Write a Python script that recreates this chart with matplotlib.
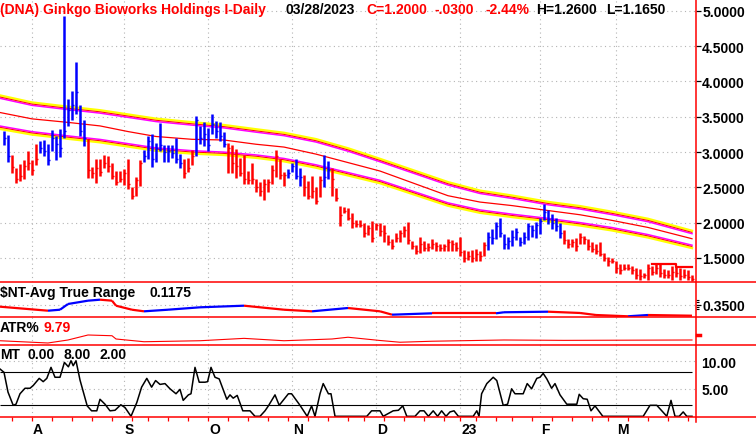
import numpy as np
import pandas as pd
import matplotlib
matplotlib.use('Agg')
import matplotlib.pyplot as plt
from matplotlib.lines import Line2D
from matplotlib.collections import LineCollection
from matplotlib import transforms

plt.rcParams['font.family'] = ['Liberation Sans', 'DejaVu Sans']

W, H = 756, 439
RED, BLUE = '#ff0000', '#0000ff'

# trading days 21 Jul 2022 .. 28 Mar 2023, index 0 = 1 Aug 2022
holidays = ['2022-09-05', '2022-11-24', '2022-12-26', '2023-01-02', '2023-01-16', '2023-02-20']
dates = pd.bdate_range('2022-07-21', '2023-03-28')
dates = dates[~dates.isin(pd.to_datetime(holidays))]
idx = np.arange(len(dates)) - 7

high = np.array([
    3.30, 3.24, 2.96, 2.77, 2.83, 2.89, 3.01, 2.89, 3.11, 3.16, 3.17, 3.11, 3.31, 3.23, 3.33, 4.93,
    3.75, 3.87, 4.28, 3.67, 3.45, 3.19, 2.79, 2.90, 2.90, 2.96, 2.95, 2.84, 2.73, 2.73, 2.76, 2.90,
    2.51, 2.65, 2.89, 3.03, 3.22, 3.26, 3.13, 3.41, 3.10, 3.10, 3.10, 3.20, 2.97, 2.90, 2.91, 3.03,
    3.51, 3.37, 3.43, 3.34, 3.54, 3.44, 3.42, 3.28, 3.13, 3.10, 3.04, 2.91, 2.96, 2.73, 2.85, 2.62,
    2.57, 2.62, 2.61, 2.82, 3.03, 2.90, 2.72, 2.76, 2.85, 2.90, 2.77, 2.68, 2.59, 2.66, 2.50, 2.66,
    2.96, 2.87, 2.77, 2.49, 2.23, 2.22, 2.21, 2.14, 2.04, 2.03, 2.00, 1.96, 2.02, 2.00, 1.99, 1.97,
    1.82, 1.77, 1.85, 1.89, 1.95, 2.01, 1.74, 1.68, 1.80, 1.74, 1.71, 1.77, 1.73, 1.69, 1.70, 1.77,
    1.75, 1.73, 1.79, 1.61, 1.59, 1.61, 1.62, 1.59, 1.73, 1.87, 1.91, 2.01, 2.06, 1.83, 1.79, 1.89,
    1.92, 1.80, 1.86, 2.00, 1.97, 2.01, 2.06, 2.26, 2.18, 2.12, 2.07, 2.00, 1.89, 1.76, 1.76, 1.78,
    1.85, 1.81, 1.77, 1.73, 1.69, 1.73, 1.57, 1.51, 1.50, 1.46, 1.41, 1.41, 1.41, 1.39, 1.36, 1.34,
    1.29, 1.41, 1.39, 1.42, 1.41, 1.34, 1.32, 1.39, 1.39, 1.36, 1.34, 1.32, 1.26])
low = np.array([
    3.10, 2.86, 2.70, 2.56, 2.59, 2.62, 2.74, 2.68, 2.82, 2.98, 2.95, 2.82, 3.01, 2.89, 2.93, 3.20,
    3.37, 3.45, 3.54, 3.23, 3.09, 2.63, 2.63, 2.56, 2.66, 2.78, 2.72, 2.62, 2.53, 2.57, 2.53, 2.48,
    2.33, 2.38, 2.52, 2.86, 2.90, 2.79, 2.86, 3.01, 2.86, 2.86, 2.91, 2.85, 2.77, 2.63, 2.72, 2.81,
    2.94, 3.11, 3.08, 3.01, 3.25, 3.20, 3.16, 3.07, 2.70, 2.70, 2.63, 2.66, 2.54, 2.54, 2.55, 2.43,
    2.38, 2.32, 2.43, 2.54, 2.65, 2.61, 2.52, 2.63, 2.72, 2.61, 2.52, 2.38, 2.33, 2.35, 2.26, 2.36,
    2.51, 2.61, 2.38, 2.30, 1.95, 2.14, 2.03, 1.92, 1.94, 1.94, 1.80, 1.82, 1.73, 1.90, 1.81, 1.72,
    1.68, 1.62, 1.73, 1.73, 1.80, 1.69, 1.62, 1.55, 1.57, 1.59, 1.59, 1.62, 1.60, 1.60, 1.59, 1.59,
    1.59, 1.60, 1.52, 1.44, 1.47, 1.44, 1.46, 1.46, 1.52, 1.61, 1.70, 1.77, 1.80, 1.62, 1.62, 1.66,
    1.75, 1.66, 1.70, 1.75, 1.80, 1.78, 1.84, 2.03, 1.98, 1.91, 1.88, 1.78, 1.70, 1.64, 1.65, 1.60,
    1.70, 1.70, 1.61, 1.58, 1.55, 1.53, 1.45, 1.39, 1.43, 1.28, 1.27, 1.32, 1.32, 1.27, 1.20, 1.19,
    1.22, 1.18, 1.25, 1.27, 1.23, 1.22, 1.21, 1.18, 1.23, 1.18, 1.21, 1.18, 1.165])
close = np.array([
    3.20, 2.95, 2.79, 2.62, 2.66, 2.80, 2.85, 2.75, 2.90, 3.05, 3.02, 2.88, 3.20, 3.12, 3.05, 3.30,
    3.60, 3.66, 3.85, 3.30, 3.20, 2.75, 2.70, 2.78, 2.72, 2.85, 2.80, 2.66, 2.58, 2.62, 2.70, 2.55,
    2.38, 2.60, 2.85, 2.95, 3.15, 2.90, 3.05, 3.10, 3.00, 3.02, 2.98, 2.90, 2.85, 2.70, 2.78, 2.95,
    3.45, 3.20, 3.25, 3.10, 3.40, 3.30, 3.22, 3.12, 3.05, 2.85, 2.80, 2.70, 2.62, 2.60, 2.62, 2.50,
    2.45, 2.55, 2.58, 2.75, 2.95, 2.68, 2.68, 2.70, 2.80, 2.66, 2.65, 2.50, 2.38, 2.45, 2.30, 2.60,
    2.65, 2.75, 2.62, 2.35, 2.10, 2.16, 2.06, 2.00, 1.98, 1.96, 1.85, 1.92, 1.78, 1.96, 1.88, 1.85,
    1.72, 1.66, 1.78, 1.85, 1.90, 1.75, 1.66, 1.60, 1.70, 1.64, 1.65, 1.70, 1.66, 1.64, 1.66, 1.72,
    1.70, 1.64, 1.58, 1.50, 1.52, 1.50, 1.55, 1.52, 1.68, 1.80, 1.78, 1.95, 1.85, 1.70, 1.74, 1.80,
    1.86, 1.72, 1.80, 1.95, 1.90, 1.96, 2.02, 2.15, 2.05, 2.00, 1.95, 1.85, 1.75, 1.70, 1.72, 1.66,
    1.80, 1.76, 1.66, 1.62, 1.60, 1.56, 1.50, 1.45, 1.46, 1.35, 1.32, 1.36, 1.35, 1.32, 1.25, 1.24,
    1.25, 1.35, 1.30, 1.35, 1.28, 1.26, 1.25, 1.30, 1.28, 1.24, 1.25, 1.23, 1.20])
# b = blue (up-trend) bar, r = red bar
trend = ("bbrrrrrrrbbbbbbbbbbbbrrrrrrrrrrrrrrbbbbbbbbbbrrrbbbbbbbbrrrrrrrrrrrrrrrbbbbrrrrrbbrrrrr"
         "rrrrrrrrrrrrrrrrrrrrrrrrrrrrrrrrrrbbbbbbbbbbbbbbbbbbbrrrrrrrrrrrrrrrrrrrrrrrrrrrrrrrrr")

# stop line near the end
stop_idx = [155, 156, 157, 158, 159, 160, 161, 162, 163, 164, 165]
stop_val = [1.41, 1.41, 1.41, 1.41, 1.41, 1.41, 1.37, 1.37, 1.37, 1.37, 1.37]

# moving average envelope
band_idx = [-8, 0, 9, 17, 24, 31, 40, 48, 56, 63, 71, 79, 87, 104, 112, 120, 129, 137, 145, 154, 165]
band_up = [3.78, 3.68, 3.62, 3.57, 3.51, 3.45, 3.40, 3.36, 3.30, 3.25, 3.16, 3.03, 2.88,
           2.55, 2.43, 2.36, 2.27, 2.21, 2.13, 2.03, 1.86]
band_mid = [3.56, 3.47, 3.42, 3.37, 3.29, 3.22, 3.18, 3.17, 3.11, 3.07, 2.97, 2.85, 2.73,
            2.38, 2.29, 2.24, 2.17, 2.11, 2.03, 1.93, 1.77]
band_lo = [3.35, 3.27, 3.21, 3.16, 3.10, 3.04, 3.00, 2.98, 2.94, 2.89, 2.80, 2.69, 2.58,
           2.26, 2.16, 2.10, 2.04, 1.98, 1.91, 1.81, 1.66]

atr_idx = [-8, 4, 7, 9, 14, 17, 20, 21, 25, 28, 34, 42, 53, 63, 70, 79, 87, 90, 100, 116, 118,
           129, 137, 141, 149, 154, 165]
atr_val = [0.308, 0.223, 0.244, 0.365, 0.435, 0.456, 0.435, 0.329, 0.244, 0.210, 0.244, 0.295,
           0.329, 0.244, 0.210, 0.280, 0.210, 0.139, 0.168, 0.168, 0.190, 0.202, 0.175, 0.132,
           0.105, 0.132, 0.1175]

atrp_idx = [-8, 4, 9, 14, 20, 21, 28, 42, 53, 63, 75, 79, 87, 92, 100, 118, 133, 165]
atrp_val = [9.2, 7.4, 9.8, 13.8, 13.2, 10.6, 8.4, 9.2, 11.1, 9.2, 10.6, 12.0, 9.4, 8.0, 8.8,
            9.8, 9.5, 9.79]

mt_idx = [-8, -7, -6, -4.7, -4, -3, -1.75, -0.5, 0.3, 1.8, 2.8, 3.7, 4.75, 5.75, 7, 8.1, 9.1,
          9.75, 10.3, 11, 12, 13.8, 14.9, 16.2, 17, 18.25, 19.5, 20.75, 22.2, 23.25, 24.75,
          26.2, 27.4, 28.7, 29.9, 30.9, 32, 33.25, 34.5, 36, 37, 37.8, 39.1, 39.75, 40.75,
          41.8, 43.25, 43.9, 44.75, 45.75, 46.8, 48.7, 49.5, 50.3, 51.3, 52.7, 54.5, 55.75,
          57, 58.25, 59.1, 60.75, 61.8, 64.1, 64.9, 67, 68.8, 69.9, 70.75, 72, 72.8, 74.1,
          74.75, 75.75, 83.7, 84.9, 87, 87.8, 90.3, 91.6, 92.7, 93.7, 95.75, 97, 98, 99.1,
          100.3, 101.4, 102.4, 103.5, 104.5, 105.5, 106.6, 110.3, 111.2, 111.75, 112.4, 113.7,
          115.3, 116.2, 117.8, 118.9, 119.9, 120.75, 122.8, 123.8, 124.9, 126.2, 127, 127.8,
          128.7, 129.9, 130.75, 132, 133.7, 136.2, 136.8, 137.8, 138.8, 139.75, 140.75, 142.7,
          152.8, 154.5, 156.2, 158.7, 159.75, 160.75, 161.8, 162.8, 163.7, 165]
mt_val = [8.6, 8.0, 4.4, 2.0, 2.2, 4.1, 5.1, 5.1, 5.6, 6.9, 6.3, 6.9, 8.9, 7.1, 7.1, 9.8, 9.0,
          10.1, 9.2, 10.1, 6.6, 1.9, 1.0, 1.0, 3.1, 2.2, 1.0, 1.1, 2.1, 1.6, 0.0,
          2.5, 5.3, 6.9, 5.3, 6.5, 5.8, 5.95, 5.0, 4.1, 4.9, 2.9, 3.9, 4.1, 8.9,
          6.2, 6.2, 6.3, 8.9, 7.1, 6.8, 3.1, 3.9, 3.3, 3.8, 1.0, 1.0, 0.0,
          0.0, 1.0, 1.9, 3.9, 2.0, 4.1, 4.1, 2.0, 0.0, 1.9, 0.0, 4.1, 5.95, 4.1,
          4.1, 0.0, 0.0, 1.0, 1.0, 0.0, 1.0, 1.1, 1.9, 0.0, 0.0, 1.0, 1.0, 0.0,
          1.0, 0.0, 1.0, 0.0, 0.8, 1.0, 0.0, 0.0, 1.0, 0.0, 4.1, 5.95,
          7.1, 6.5, 2.0, 2.2, 5.0, 4.1, 4.1, 5.95, 5.0, 6.9, 7.1, 7.8,
          6.8, 5.1, 5.95, 3.9, 2.2, 2.2, 4.0, 3.2, 3.1, 1.0, 1.9, 0.0,
          0.0, 2.0, 2.0, 0.0, 2.9, 0.0, 0.0, 0.8, 0.0, 0.0]

month_labels = ['A', 'S', 'O', 'N', 'D', '23', 'F', 'M']
price_ticks = [5.0, 4.5, 4.0, 3.5, 3.0, 2.5, 2.0, 1.5]

# month starts and first trading day of each week
month_pos = [idx[k] for k in range(1, len(dates)) if dates[k].month != dates[k - 1].month]
week_pos = [idx[k] for k in range(1, len(dates)) if dates[k].weekday() < dates[k - 1].weekday()]

fig = plt.figure(figsize=(W / 100, H / 100), dpi=100)
fig.patch.set_facecolor('white')
plot_w = 696


def panel(top, bottom, ylim):
    ax = fig.add_axes([0, 1 - bottom / H, plot_w / W, (bottom - top) / H])
    ax.set_xlim(-8, 166)
    ax.set_ylim(*ylim)
    ax.set_facecolor('none')
    for s in ax.spines.values():
        s.set_visible(False)
    ax.set_xticks([])
    ax.yaxis.set_ticks_position('right')
    ax.tick_params(axis='y', direction='out', length=3.4, width=0.9, pad=1, labelsize=10,
                   colors='black')
    for m in month_pos:
        ax.axvline(m, color='#b4b4b4', lw=0.8, ls=(0, (1, 3)), zorder=0)
    return ax


def shifted(ax, dy):
    return transforms.offset_copy(ax.transData, fig=fig, x=0, y=dy, units='dots')


# ---- price panel
ax = panel(0, 283.3, (1.152, 5.170))
for p in price_ticks:
    ax.axhline(p, color='#b4b4b4', lw=0.8, ls=(0, (1, 3)), zorder=0)
ax.set_yticks(price_ticks)
ax.set_yticklabels(['%.4f' % p for p in price_ticks], fontweight='bold')

ax.plot(band_idx, band_up, color='#ffff00', lw=1.7, transform=shifted(ax, 1.6))
ax.plot(band_idx, band_up, color='#ff00ff', lw=1.1, transform=shifted(ax, -1.3))
ax.plot(band_idx, band_up, color=RED, lw=0.7)
ax.plot(band_idx, band_mid, color=RED, lw=0.9)
ax.plot(band_idx, band_lo, color='#ffff00', lw=1.7, transform=shifted(ax, -1.6))
ax.plot(band_idx, band_lo, color='#ff00ff', lw=1.1, transform=shifted(ax, 1.3))
ax.plot(band_idx, band_lo, color=RED, lw=0.7)

up = np.array([c == 'b' for c in trend])
bar_col = np.where(up, BLUE, RED)
ax.vlines(idx, low, high, colors=bar_col, lw=1.8, zorder=3)
ax.hlines(close, idx, idx + 0.6, colors=bar_col, lw=1.0, zorder=3)
ax.plot(stop_idx, stop_val, color=RED, lw=1.6, drawstyle='steps-post', zorder=3)

# ---- ATR panel
ax2 = panel(283.3, 318.3, (0.0836, 0.8236))
ax2.axhline(0.35, color='#b4b4b4', lw=0.8, ls=(0, (1, 3)), zorder=0)
ax2.set_yticks([0.35])
ax2.set_yticklabels(['0.3500'], fontweight='bold')
ax2.set_yticks([0.25, 0.30, 0.40, 0.45], minor=True)
ax2.tick_params(axis='y', which='minor', direction='out', length=2, width=0.8)
pts = np.column_stack([atr_idx, atr_val])
segs = np.stack([pts[:-1], pts[1:]], axis=1)
seg_col = [BLUE if b > a else RED for a, b in zip(atr_val[:-1], atr_val[1:])]
ax2.add_collection(LineCollection(segs, colors=seg_col, linewidths=1.6))

# ---- ATR% panel
ax3 = panel(318.3, 345.7, (6.03, 27.95))
ax3.set_yticks([])
ax3.plot(atrp_idx, atrp_val, color=RED, lw=0.8)

# ---- MT panel
ax4 = panel(345.7, 417.7, (-0.07, 13.02))
for v in [10, 5]:
    ax4.axhline(v, color='#b4b4b4', lw=0.8, ls=(0, (1, 3)), zorder=0)
ax4.set_yticks([10, 5])
ax4.set_yticklabels(['10.00', '5.00'], fontweight='bold')
ax4.tick_params(axis='y', length=0, pad=4)
ax4.hlines([8, 2], -8, 165, color='black', lw=0.8)
ax4.plot(mt_idx, mt_val, color='black', lw=1.1)
ax4.set_xticks(week_pos)
ax4.tick_params(axis='x', direction='out', length=3, width=0.9, color=RED, labelbottom=False)

# ---- frame lines
for y in [283.3, 318.3, 345.7, 417.7]:
    fig.add_artist(Line2D([0, 1], [1 - y / H] * 2, color=RED, lw=1.1))
fig.add_artist(Line2D([plot_w / W] * 2, [1, 1 - 423 / H], color=RED, lw=1.1))
fig.add_artist(Line2D([(plot_w + 1) / W, (plot_w + 4) / W], [1 - 335.5 / H] * 2, color=RED, lw=2.5))


def ptext(x, y, s, color='black'):
    fig.text(x / W, 1 - y / H, s, color=color, fontsize=10, fontweight='bold',
             ha='left', va='baseline')


ptext(0, 14, '(DNA) Ginkgo Bioworks Holdings I-Daily', RED)
ptext(285, 14, '03/28/2023')
ptext(366, 14, 'C=1.2000', RED)
ptext(435, 14, '-.0300', RED)
ptext(485, 14, '-2.44%', RED)
ptext(536, 14, 'H=1.2600')
ptext(606, 14, 'L=1.1650')

ptext(0, 296.7, '$NT-Avg True Range')
ptext(150, 296.7, '0.1175')
ptext(0, 331.7, 'ATR%')
ptext(43, 331.7, '9.79', RED)
ptext(0, 359, 'MT')
ptext(27.7, 359, '0.00')
ptext(63.3, 359, '8.00')
ptext(99.3, 359, '2.00')

for m, lab in zip(month_pos, month_labels):
    ptext(32 + 4 * m + 1, 434.3, lab)

fig.savefig('out.png', dpi=100, facecolor='white')
